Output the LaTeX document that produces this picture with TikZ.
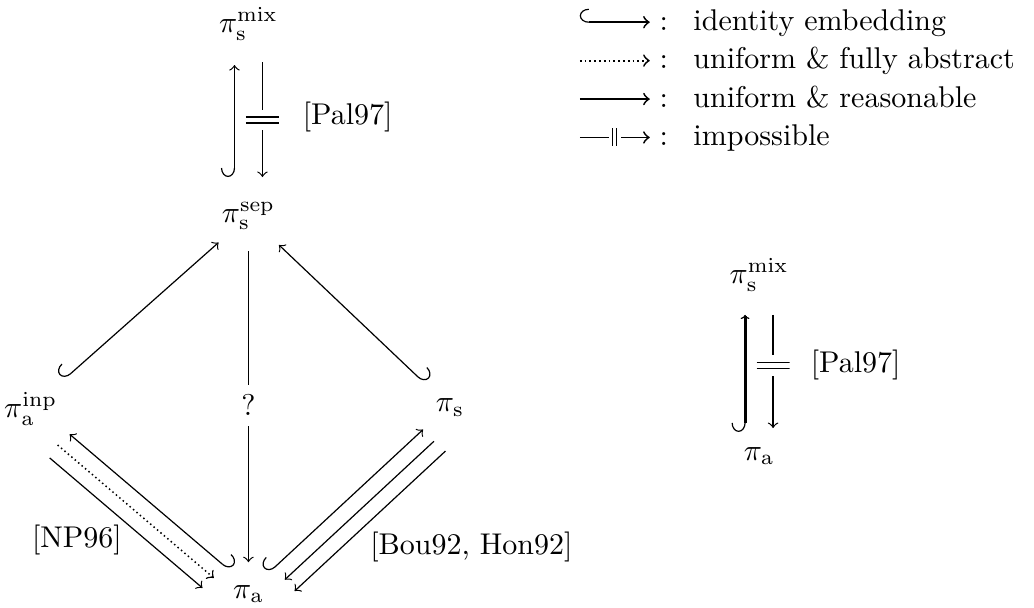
\documentclass[tikz,border=0pt]{standalone}
\usepackage{amsmath,amssymb}
\usepackage{tikz}
\usetikzlibrary{arrows.meta}

\begin{document}
\begin{tikzpicture}[
      obj/.style={inner sep=0pt},
      leg/.style={inner sep=0pt, text height=1.5ex, text depth=.25ex},
      emb/.style={{Hooks[right, width=9pt 0, length=3pt 0, line width=0.4pt 0]}-{to}},
      embl/.style={{Hooks[left, width=9pt 0, length=3pt 0, line width=0.4pt 0]}-{to}},
      uni/.style={-{to}},
      fab/.style={-{to}, densely dotted, line width=0.5pt},
      legline/.style={line width=0.6pt},
      thk/.style={line width=1pt,
                  {Hooks[right, width=9pt 0, length=3pt 0, line width=0.4pt 0]}-{Computer Modern Rightarrow[length=1.4pt 0, line width=0.4pt 0]}},
      bar/.style={fill=white, inner sep=0pt, minimum width=11pt, minimum height=6.7pt,
                  path picture={\draw[-, solid, line width=0.4pt, shorten <=0pt, shorten >=0pt]
                    ([yshift=1pt]path picture bounding box.west) -- ([yshift=1pt]path picture bounding box.east)
                    ([yshift=-1pt]path picture bounding box.west) -- ([yshift=-1pt]path picture bounding box.east);}},
      vbar/.style={fill=white, inner sep=0pt, minimum width=4pt, minimum height=6pt,
                  path picture={\draw[-, solid, line width=0.4pt, shorten <=0pt, shorten >=0pt]
                    ([xshift=-0.7pt]path picture bounding box.north) -- ([xshift=-0.7pt]path picture bounding box.south)
                    ([xshift=0.7pt]path picture bounding box.north) -- ([xshift=0.7pt]path picture bounding box.south);}}
  ]
    \useasboundingbox (0,0) rectangle (12.11,-7.12);

    % left diagram
    \node[obj] (mixA) at (2.91,-0.28) {$\pi_{\mathrm{s}}^{\mathrm{mix}}$};
    \node[obj] (sepA) at (2.91,-2.53) {$\pi_{\mathrm{s}}^{\mathrm{sep}}$};
    \node[obj] (inp) at (0.36,-4.79) {$\pi_{\mathrm{a}}^{\mathrm{inp}}$};
    \node[obj] (piS) at (5.27,-4.77) {$\pi_{\mathrm{s}}$};
    \node[obj] (paA) at (2.91,-6.96) {$\pi_{\mathrm{a}}$};
    \node[obj, anchor=west] (palA) at (3.54,-1.37) {[Pal97]};
    \node[obj] (np) at (0.90,-6.32) {[NP96]};
    \node[obj, anchor=west] (bh) at (4.33,-6.41) {[Bou92, Hon92]};

    \draw[emb, shorten <=13pt, shorten >=13.7pt] ([xshift=-0.164cm]sepA.center) -- ([xshift=-0.164cm]mixA.center);
    \draw[uni, shorten <=12.7pt, shorten >=13pt] ([xshift=0.164cm]mixA.center) -- node[bar]{} ([xshift=0.164cm]sepA.center);

    \draw[emb, shorten <=14.7pt, shorten >=13.3pt] (inp.center) -- (sepA.center);
    \draw[embl, shorten <=11.7pt, shorten >=14pt] (piS.center) -- (sepA.center);
    \draw[uni, shorten <=11.7pt, shorten >=10.7pt] (sepA.center) -- node[fill=white]{?} (paA.center);

    \draw[embl, shorten <=10pt, shorten >=15.3pt] ([shift={(1.3pt,1.52pt)}]paA.center) -- ([shift={(1.3pt,1.52pt)}]inp.center);
    \draw[fab, shorten <=14.6pt, shorten >=12.3pt] ([shift={(-2.17pt,-2.53pt)}]inp.center) -- ([shift={(-2.17pt,-2.53pt)}]paA.center);
    \draw[uni, shorten <=15.4pt, shorten >=13pt] ([shift={(-5.42pt,-6.32pt)}]inp.center) -- ([shift={(-5.42pt,-6.32pt)}]paA.center);

    \draw[emb, shorten <=9.7pt, shorten >=11.6pt] ([shift={(-0.45pt,0.49pt)}]paA.center) -- ([shift={(-0.45pt,0.49pt)}]piS.center);
    \draw[uni, shorten <=11.6pt, shorten >=12.2pt] ([shift={(3.17pt,-3.43pt)}]piS.center) -- ([shift={(3.17pt,-3.43pt)}]paA.center);
    \draw[uni, shorten <=11pt, shorten >=12pt] ([shift={(6.57pt,-7.1pt)}]piS.center) -- ([shift={(6.57pt,-7.1pt)}]paA.center);

    % right diagram
    \node[obj] (mixB) at (8.89,-3.22) {$\pi_{\mathrm{s}}^{\mathrm{mix}}$};
    \node[obj] (paB) at (8.89,-5.34) {$\pi_{\mathrm{a}}$};
    \node[obj, anchor=west] (palB) at (9.49,-4.27) {[Pal97]};

    \draw[thk, shorten <=8pt, shorten >=13.3pt] ([xshift=-0.164cm]paB.center) -- ([xshift=-0.164cm]mixB.center);
    \draw[uni, shorten <=13.3pt, shorten >=9.3pt] ([xshift=0.164cm]mixB.center) -- node[bar]{} ([xshift=0.164cm]paB.center);

    % legend
    \foreach \txt [count=\i] in {identity embedding, uniform \& fully abstract, uniform \& reasonable, impossible}{
      \coordinate (ls\i) at (6.79,{-0.26-0.45*(\i-1)});
      \coordinate (le\i) at (7.61,{-0.26-0.45*(\i-1)});
      \node[leg] (lc\i) at (7.775,{-0.26-0.45*(\i-1)}) {:};
      \node[leg, anchor=west] (lt\i) at (8.115,{-0.26-0.45*(\i-1)}) {\txt};
    }
    \draw[emb, legline] (ls1) -- (le1);
    \draw[fab, legline] (ls2) -- (le2);
    \draw[uni, legline] (ls3) -- (le3);
    \draw[uni, legline] (ls4) -- node[vbar]{} (le4);
  \end{tikzpicture}
\end{document}
